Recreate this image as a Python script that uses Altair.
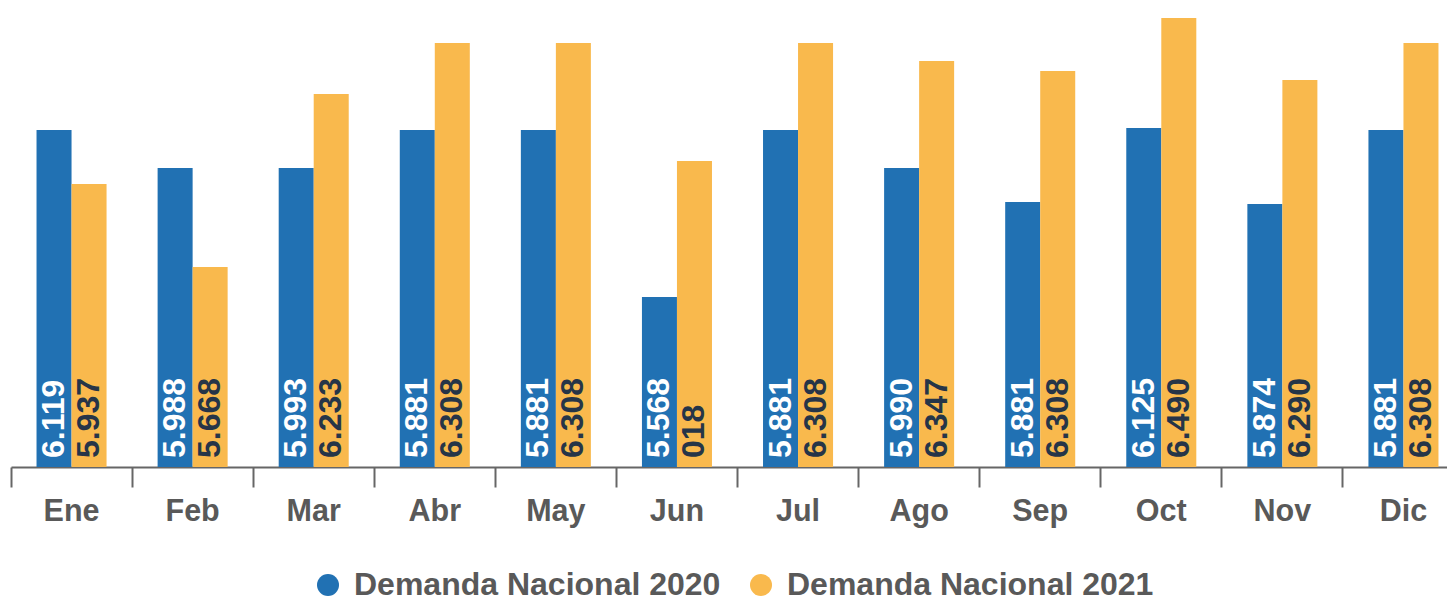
import altair as alt
import pandas as pd

meses = ["Ene", "Feb", "Mar", "Abr", "May", "Jun", "Jul", "Ago", "Sep", "Oct", "Nov", "Dic"]
series = ["Demanda Nacional 2020", "Demanda Nacional 2021"]

# bar heights (arbitrary units)
valores_2020 = [337, 299, 299, 337, 337, 170, 337, 299, 265, 339, 263, 337]
valores_2021 = [283, 200, 373, 424, 424, 306, 424, 406, 396, 449, 387, 424]

# labels printed inside the bars (as shown)
etiquetas_2020 = ["6.119", "5.988", "5.993", "5.881", "5.881", "5.568", "5.881", "5.990", "5.881", "6.125", "5.874", "5.881"]
etiquetas_2021 = ["5.937", "5.668", "6.233", "6.308", "6.308", "018", "6.308", "6.347", "6.308", "6.490", "6.290", "6.308"]

colores = ["#2171b3", "#f9b94d"]

rows = []
for i, m in enumerate(meses):
    rows.append({"mes": m, "serie": series[0], "valor": valores_2020[i], "etiqueta": etiquetas_2020[i]})
    rows.append({"mes": m, "serie": series[1], "valor": valores_2021[i], "etiqueta": etiquetas_2021[i]})
df = pd.DataFrame(rows)

FONT = "Liberation Sans"

x_enc = alt.X(
    "mes:N",
    sort=meses,
    scale=alt.Scale(paddingInner=0, paddingOuter=0, range=[0, 1453]),
    axis=alt.Axis(
        title=None,
        bandPosition=0,
        labelAngle=0,
        domainColor="#666666",
        domainWidth=2,
        tickColor="#666666",
        tickWidth=2,
        tickSize=20,
        labelFontSize=30.5,
        labelFontWeight="bold",
        labelColor="#595959",
        labelFont=FONT,
        labelPadding=9,
    ),
)
xoff_enc = alt.XOffset(
    "serie:N",
    sort=series,
    scale=alt.Scale(domain=series, paddingInner=0, paddingOuter=0.729),
)

bars = alt.Chart(df).mark_bar().encode(
    x=x_enc,
    xOffset=xoff_enc,
    y=alt.Y("valor:Q", scale=alt.Scale(domain=[0, 449], nice=False), axis=None),
    color=alt.Color(
        "serie:N",
        sort=series,
        scale=alt.Scale(domain=series, range=colores),
        legend=alt.Legend(
            title=None,
            orient="none",
            direction="horizontal",
            legendX=301,
            legendY=551,
            symbolType="circle",
            symbolSize=484,
            symbolStrokeWidth=0,
            labelFontSize=32,
            labelFontWeight="bold",
            labelColor="#595959",
            labelFont=FONT,
            labelOffset=10,
            columnPadding=24,
            labelLimit=600,
        ),
    ),
)

labels = alt.Chart(df).mark_text(
    angle=270,
    align="left",
    baseline="middle",
    dx=9,
    fontSize=32,
    fontWeight="bold",
    font=FONT,
).encode(
    x=alt.X("mes:N", sort=meses),
    xOffset=alt.XOffset("serie:N", sort=series),
    y=alt.datum(0),
    text="etiqueta:N",
    color=alt.condition(
        "datum.serie == 'Demanda Nacional 2020'",
        alt.value("white"),
        alt.value("#263548"),
    ),
)

chart = (
    alt.layer(bars, labels)
    .properties(
        width=1436,
        height=449,
        padding={"left": 3, "top": 10, "right": 0, "bottom": 134},
        autosize=alt.AutoSizeParams(type="none"),
    )
    .configure_view(stroke=None)
)

chart.save("out.html", embed_options={"renderer": "svg", "actions": False})
